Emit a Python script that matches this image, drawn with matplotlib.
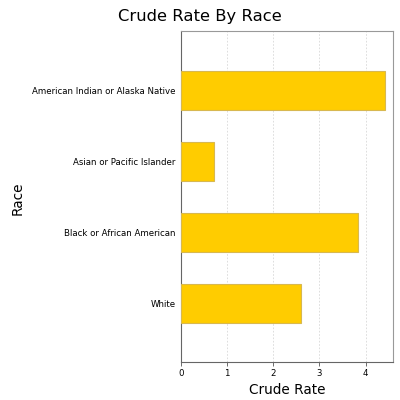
import matplotlib
matplotlib.use('Agg')
import matplotlib.pyplot as plt

races = ['White', 'Black or African American', 'Asian or Pacific Islander',
         'American Indian or Alaska Native']
crude_rate = [2.61, 3.83, 0.71, 4.42]
xticks = [0, 1, 2, 3, 4]

plt.rcParams['font.family'] = ['DejaVu Sans']

fig = plt.figure(figsize=(4, 4), dpi=100)
ax = fig.add_axes([0.4525, 0.096, 0.5305, 0.8265])

ax.barh(range(len(races)), crude_rate, height=0.56, color='#ffcc00',
        edgecolor='#d8b850', linewidth=0.8, zorder=3)

ax.set_xlim(0, 4.6)
ax.set_ylim(-0.82, 3.84)
ax.set_xticks(xticks)
ax.set_xticklabels([str(t) for t in xticks], fontsize=6.2)
ax.set_yticks(range(len(races)))
ax.set_yticklabels(races, fontsize=6.2)
ax.tick_params(axis='both', length=3, width=0.6, color='#555555', pad=2)
ax.tick_params(axis='y', length=0, pad=4)

ax.grid(axis='x', linestyle=(0, (2, 2)), color='#d8d8d8', linewidth=0.6, zorder=0)

for s in ['left', 'bottom']:
    ax.spines[s].set_color('#666666')
    ax.spines[s].set_linewidth(0.8)
for s in ['top', 'right']:
    ax.spines[s].set_color('#999999')
    ax.spines[s].set_linewidth(0.8)

ax.set_xlabel('Crude Rate', fontsize=9.8, labelpad=4)
fig.text(0.045, 0.505, 'Race', rotation=90, fontsize=9.8, ha='center', va='center')
fig.text(0.5, 0.96, 'Crude Rate By Race', fontsize=11.8, ha='center', va='center')

fig.savefig('out.png', dpi=100)
